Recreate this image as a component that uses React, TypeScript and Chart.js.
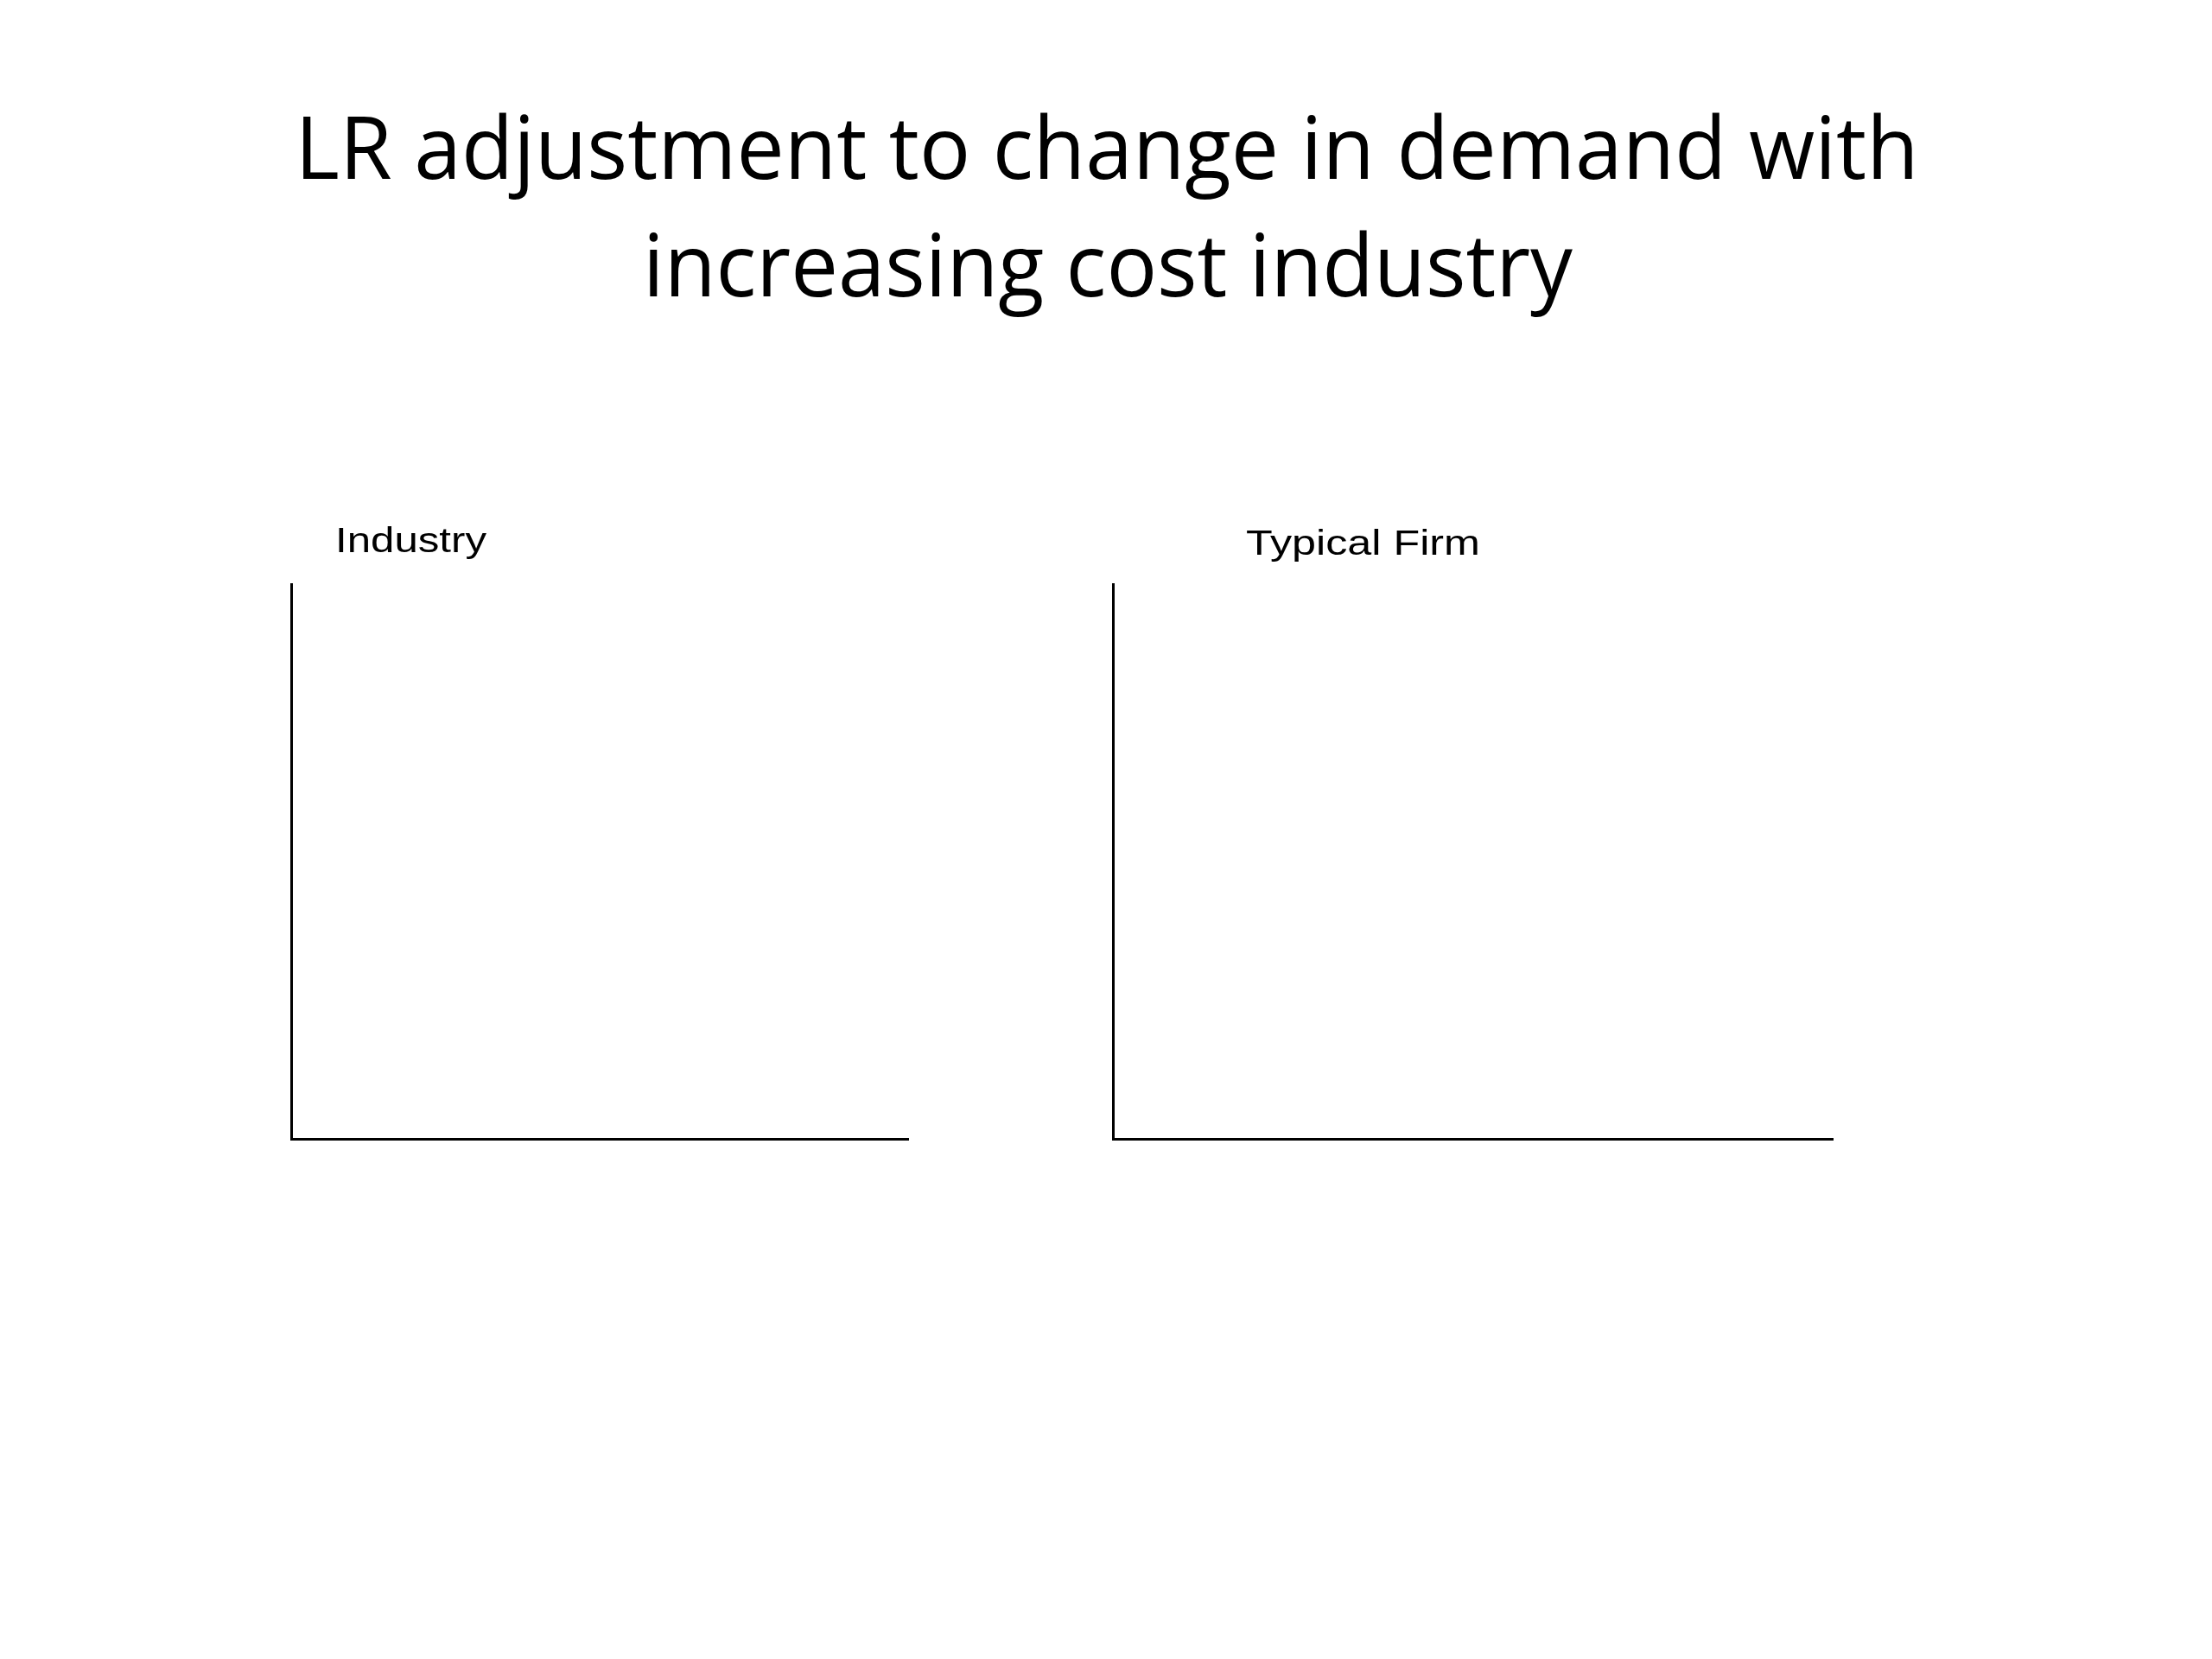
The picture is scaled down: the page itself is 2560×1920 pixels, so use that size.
import React, { useEffect, useRef } from "react";
import { Chart, registerables } from "chart.js";

Chart.register(...registerables);

// ---- content ----
const TITLE_LINES = ["LR adjustment to change in demand with", "increasing cost industry"];
const PANEL_LABELS = ["Industry", "Typical Firm"];
const X_RANGE = [0, 10];
const Y_RANGE = [0, 10];
// no curves are drawn in the reference: empty series
const INDUSTRY_POINTS: { x: number; y: number }[] = [];
const FIRM_POINTS: { x: number; y: number }[] = [];

// ---- layout ----
const W = 2560;
const H = 1920;
const PANELS = [
  { left: 337, right: 1051, top: 676, bottom: 1318, labelX: 388, labelY: 639, labelW: 175 },
  { left: 1288, right: 2121, top: 676, bottom: 1318, labelX: 1442, labelY: 642, labelW: 271 },
];
const TITLE_LAYOUT = [
  { cx: 1281, y: 207, w: 1879 },
  { cx: 1282, y: 343, w: 1076 },
];

function drawFitted(
  ctx: CanvasRenderingContext2D,
  text: string,
  x: number,
  y: number,
  targetW: number,
  font: string,
  align: "left" | "center"
) {
  ctx.save();
  ctx.font = font;
  ctx.fillStyle = "#000";
  ctx.textBaseline = "alphabetic";
  ctx.textAlign = "left";
  const m = ctx.measureText(text).width || 1;
  const sx = targetW / m;
  const startX = align === "center" ? x - targetW / 2 : x;
  ctx.translate(startX, y);
  ctx.scale(sx, 1);
  ctx.fillText(text, 0, 0);
  ctx.restore();
}

function Panel({ index }: { index: number }) {
  const ref = useRef<HTMLCanvasElement | null>(null);
  useEffect(() => {
    const canvas = ref.current;
    if (!canvas) return;
    const p = PANELS[index];
    const textPlugin = {
      id: "slideText" + index,
      afterDraw(chart: any) {
        const ctx = chart.ctx as CanvasRenderingContext2D;
        drawFitted(
          ctx,
          PANEL_LABELS[index],
          p.labelX,
          p.labelY,
          p.labelW,
          '40px "Liberation Sans", Arial, sans-serif',
          "left"
        );
        if (index === 0) {
          TITLE_LINES.forEach((line, i) => {
            const t = TITLE_LAYOUT[i];
            drawFitted(ctx, line, t.cx, t.y, t.w, '101px "Open Sans", sans-serif', "center");
          });
        }
      },
    };
    const axisOpts = (range: number[]) => ({
      type: "linear" as const,
      min: range[0],
      max: range[1],
      grid: { display: false, drawTicks: false, tickLength: 0 },
      ticks: { display: false, padding: 0 },
      border: { display: true, color: "#000", width: 3 },
    });
    const chart = new Chart(canvas, {
      type: "scatter",
      data: {
        datasets: [
          {
            label: PANEL_LABELS[index],
            data: index === 0 ? INDUSTRY_POINTS : FIRM_POINTS,
            showLine: true,
            borderColor: "#000",
            borderWidth: 0,
            pointRadius: 0,
            pointBorderWidth: 0,
            pointHoverRadius: 0,
          },
        ],
      },
      options: {
        responsive: false,
        animation: false,
        devicePixelRatio: 1,
        layout: {
          autoPadding: false,
          padding: { left: p.left, right: W - p.right, top: p.top, bottom: H - p.bottom },
        },
        plugins: { legend: { display: false }, title: { display: false }, tooltip: { enabled: false } },
        scales: { x: axisOpts(X_RANGE), y: axisOpts(Y_RANGE) },
      },
      plugins: [textPlugin],
    });
    return () => chart.destroy();
  }, [index]);
  return (
    <canvas
      ref={ref}
      width={W}
      height={H}
      style={{ position: "absolute", left: 0, top: 0, width: W, height: H, pointerEvents: "none" }}
    />
  );
}

export default function App() {
  return (
    <div style={{ position: "fixed", left: 0, top: 0, width: W, height: H, background: "#fff", overflow: "hidden" }}>
      <Panel index={0} />
      <Panel index={1} />
    </div>
  );
}
